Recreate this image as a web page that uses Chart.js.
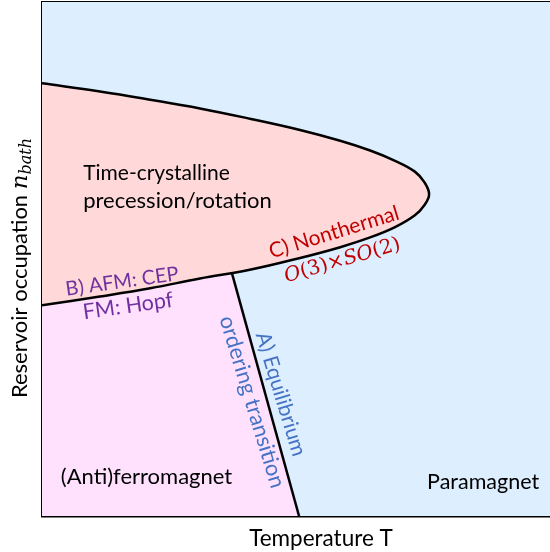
<!DOCTYPE html>
<html>
<head>
<meta charset="utf-8">
<script src="https://cdn.jsdelivr.net/npm/chart.js@4.4.1/dist/chart.umd.min.js"></script>
<style>
  html, body { margin: 0; padding: 0; background: #fff; }
  #wrap { width: 550px; height: 552px; }
</style>
</head>
<body>
<div id="wrap"><canvas id="phase" width="550" height="552"></canvas></div>
<script>
// time-crystal lobe: upper edge, tip, lower edge back to T = 0
const crystalT = [0, 1.14, 2.13, 3.11, 4.09, 5.08, 5.87, 6.46, 6.95, 7.34, 7.53, 7.62, 7.53, 7.34, 6.95, 6.46, 5.87, 5.08, 4.09, 3.11, 2.13, 1.14, 0];
const crystalN = [8.42, 8.26, 8.10, 7.93, 7.73, 7.51, 7.30, 7.11, 6.91, 6.70, 6.49, 6.26, 6.05, 5.85, 5.62, 5.42, 5.23, 5.02, 4.79, 4.62, 4.43, 4.27, 4.10];

// (anti)ferromagnet region outline
const afmT = [0, 1.14, 2.13, 3.11, 3.74, 5.06];
const afmN = [4.10, 4.27, 4.43, 4.62, 4.72, 0];

// equilibrium ordering transition
const eqT = [3.74, 5.06];
const eqN = [4.72, 0];

const toPts = (xs, ys) => xs.map((x, i) => ({ x: x, y: ys[i] }));

const BLUE_BG = "#ddeeff";
const PINK = "#ffd9d9";
const LILAC = "#ffe1fd";

const SANS = "Lato, 'Open Sans', sans-serif";
const MATH = "'DejaVu Serif', serif";

// draw a run of text pieces, centred on (x, y), rotated by angle (deg)
function drawRun(ctx, parts, x, y, angle, color) {
    ctx.save();
    ctx.translate(x, y);
    ctx.rotate(angle * Math.PI / 180);
    ctx.fillStyle = color;
    ctx.textBaseline = "alphabetic";
    ctx.textAlign = "left";
    let total = 0;
    parts.forEach(p => { ctx.font = p.font; p.w = ctx.measureText(p.text).width; total += p.w; });
    let cx = -total / 2;
    parts.forEach(p => {
        ctx.font = p.font;
        ctx.fillText(p.text, cx, p.dy || 0);
        cx += p.w;
    });
    ctx.restore();
}

const bgPlugin = {
    id: "bg",
    beforeDatasetsDraw(chart) {
        const { ctx, chartArea: a } = chart;
        ctx.save();
        ctx.fillStyle = BLUE_BG;
        ctx.fillRect(a.left, a.top, a.right - a.left, a.bottom - a.top);
        ctx.restore();
    }
};

const textPlugin = {
    id: "texts",
    afterDraw(chart) {
        const { ctx } = chart;
        const sx = chart.scales.x, sy = chart.scales.y;
        const X = v => sx.getPixelForValue(v);
        const Y = v => sy.getPixelForValue(v);

        ctx.save();
        ctx.fillStyle = "#000";
        ctx.textBaseline = "alphabetic";
        ctx.textAlign = "left";
        ctx.font = "21px " + SANS;
        ctx.fillText("Time-crystalline", X(0.81), Y(6.54));
        ctx.font = "22px " + SANS;
        ctx.fillText("precession/rotation", X(0.81), Y(5.99));
        ctx.font = "22px " + SANS;
        ctx.fillText("(Anti)ferromagnet", X(0.37), Y(0.62));
        ctx.font = "21.5px " + SANS;
        ctx.fillText("Paramagnet", X(7.58), Y(0.53));
        ctx.restore();

        // boundary annotations
        drawRun(ctx, [{ text: "C) Nonthermal", font: "21px " + SANS, dy: 7 }], 334, 232, -17, "#c00000");
        drawRun(ctx, [
            { text: "O", font: "italic 20px " + MATH, dy: 7 },
            { text: "(3)×", font: "20px " + MATH, dy: 7 },
            { text: "SO", font: "italic 20px " + MATH, dy: 7 },
            { text: "(2)", font: "20px " + MATH, dy: 7 }
        ], 342, 259, -16, "#c00000");
        drawRun(ctx, [{ text: "B) AFM: CEP", font: "20px " + SANS, dy: 7 }], 122, 281, -8, "#7030a0");
        drawRun(ctx, [{ text: "FM: Hopf", font: "21.5px " + SANS, dy: 7 }], 128, 306, -8, "#7030a0");
        drawRun(ctx, [{ text: "A) Equilibrium", font: "21px " + SANS, dy: 7 }], 281, 394, 73, "#4472c4");
        drawRun(ctx, [{ text: "ordering transition", font: "22px " + SANS, dy: 7 }], 252, 402, 73, "#4472c4");

        // axis titles
        drawRun(ctx, [{ text: "Temperature T", font: "22.5px " + SANS, dy: 8 }], 321, 538, 0, "#000");
        drawRun(ctx, [
            { text: "Reservoir occupation ", font: "22px " + SANS, dy: 8 },
            { text: "n", font: "italic 23px " + MATH, dy: 8 },
            { text: "bath", font: "italic 16px " + MATH, dy: 12 }
        ], 19, 268, -90, "#000");
    }
};

const axisOpts = (pos) => ({
    type: "linear",
    position: pos,
    min: 0,
    max: 10,
    grid: { display: false, drawTicks: false },
    ticks: { display: false },
    border: { display: true, color: "#000", width: 2.5 },
    title: { display: false }
});

new Chart(document.getElementById("phase"), {
    type: "scatter",
    data: {
        datasets: [
            {
                label: "time crystal",
                data: toPts(crystalT, crystalN),
                showLine: true,
                tension: 0.4,
                borderColor: "#000",
                borderWidth: 2.5,
                backgroundColor: PINK,
                fill: "shape",
                pointRadius: 0
            },
            {
                label: "equilibrium",
                data: toPts(eqT, eqN),
                showLine: true,
                borderColor: "#000",
                borderWidth: 2.5,
                pointRadius: 0,
                fill: false
            },
            {
                label: "afm",
                data: toPts(afmT, afmN),
                showLine: true,
                borderWidth: 0,
                borderColor: "rgba(0,0,0,0)",
                backgroundColor: LILAC,
                fill: "origin",
                pointRadius: 0
            }
        ]
    },
    options: {
        responsive: false,
        animation: false,
        layout: { padding: { left: 42, top: 2, right: 0, bottom: 36 } },
        plugins: {
            legend: { display: false },
            tooltip: { enabled: false }
        },
        scales: {
            x: axisOpts("bottom"),
            xTop: axisOpts("top"),
            y: axisOpts("left")
        }
    },
    plugins: [bgPlugin, textPlugin]
});
</script>
</body>
</html>
